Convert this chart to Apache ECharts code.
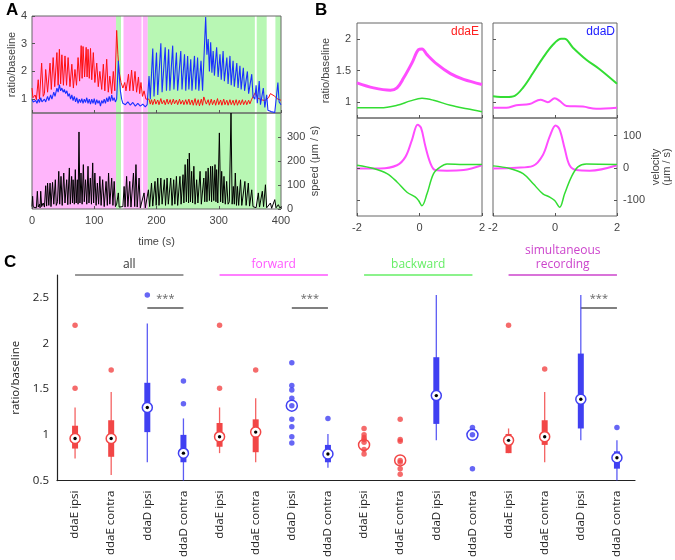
<!DOCTYPE html>
<html><head><meta charset="utf-8">
<script src="https://cdn.jsdelivr.net/npm/echarts@6/dist/echarts.min.js"></script>
<style>html,body{margin:0;padding:0;background:#fff}#c{width:675px;height:560px}</style>
</head><body><div id="c"></div><script>
// ---------- Panel A data ----------
const aRatioE = [[0,1.40],[1.5,1.05],[3,1.0],[5,1.15],[7,0.98],[10,1.7],[12,1.0],[15.5,2.3],[18,1.1],[20,1.2],[22,2.07],[25,1.25],[29,2.3],[31,1.35],[34,2.5],[36.5,1.45],[40,2.68],[42,1.5],[44,2.8],[46,1.55],[48,2.6],[50.5,1.5],[53,2.56],[55.5,1.5],[58,2.5],[61,1.45],[64,2.26],[66.5,1.4],[69,2.07],[71.5,1.5],[74,2.5],[76.5,1.65],[79,2.93],[80.5,1.75],[82,2.9],[84.5,1.8],[87,2.87],[88.5,1.8],[90,2.8],[92,1.75],[94,2.83],[96,1.7],[98.5,2.68],[101,1.6],[104,2.3],[106.5,1.45],[109,2.0],[112,1.35],[114.6,2.26],[117,1.3],[120,2.44],[122.5,1.25],[125,1.83],[128,1.2],[130.6,2.0],[133,1.3],[136,3.48],[138,2.6],[140,2.0],[143,1.6],[146,1.4],[149,1.6],[151,1.3],[155,1.9],[157,1.3],[160,2.05],[162.5,1.3],[165.5,2.0],[168,1.25],[171,1.8],[173,1.2],[175,1.6],[177.5,1.1],[180,1.3],[183,1.0],[186,0.95],[188,1.0],[190,0.82],[192,0.98],[194,0.8],[197,1.0],[199,0.82],[202,0.97],[204,0.8],[207,1.02],[209,0.83],[212,0.96],[214,0.8],[217,1.0],[219,0.82],[222,0.98],[224,0.8],[227,1.0],[229,0.83],[232,0.97],[234,0.8],[237,1.0],[239,0.82],[242,0.96],[244,0.8],[247,0.98],[249,0.81],[252,1.0],[254,0.8],[257,0.97],[259,0.78],[262,1.02],[264,0.78],[267,0.98],[269,0.76],[272,1.0],[274,0.78],[276,1.08],[278,1.13],[280,0.82],[283,0.98],[285,0.78],[288,1.0],[290,0.8],[293,0.97],[295,0.78],[298,1.02],[300,0.8],[303,0.97],[305,0.78],[308,1.0],[310,0.8],[313,0.96],[315,0.78],[318,0.98],[320,0.8],[323,0.96],[325,0.78],[328,0.98],[330,0.78],[333,0.96],[335,0.8],[338,0.98],[340,0.8],[343,0.95],[345,0.8],[348,0.96],[350,0.83],[353,1.0],[356,0.95],[359,1.25],[362,1.05],[365,1.1],[368,0.98],[371,1.05],[374,0.95],[377,0.98],[380,1.05],[383,1.2],[386,1.25],[389,1.12],[392,1.05],[395,1.0],[398,0.93],[400,0.96]];
const aRatioD = [[0,1.0],[2,0.9],[4,0.85],[6,0.95],[8,0.85],[10,1.0],[12,0.88],[14,1.05],[16,0.9],[18,0.95],[20,1.0],[22,0.9],[25,1.1],[27,0.95],[30,1.15],[32,1.0],[35,1.25],[37,1.1],[40,1.4],[42,1.25],[44,1.52],[46,1.3],[48,1.4],[50,1.25],[52,1.35],[54,1.2],[56,1.3],[58,1.1],[60,1.2],[62,1.0],[64,1.15],[66,0.95],[68,1.1],[70,0.9],[72,1.05],[74,0.85],[76,1.0],[78,0.88],[80,1.02],[82,0.85],[84,1.0],[86,0.88],[88,1.05],[90,0.85],[92,1.0],[94,0.82],[96,1.0],[98,0.85],[100,1.02],[102,0.8],[104,0.98],[106,0.85],[108,0.95],[110,0.75],[112,0.95],[114,0.85],[116,1.0],[118,0.85],[120,1.05],[122,0.9],[124,1.1],[126,0.92],[128,1.15],[130,0.95],[132,1.05],[134,0.9],[136,1.0],[138.7,2.38],[140,1.9],[142,1.3],[144,1.0],[146,0.85],[150,0.8],[154,0.9],[158,0.78],[162,0.88],[166,0.75],[170,0.85],[174,0.75],[178,0.82],[182,0.72],[185,0.8],[188,1.83],[190,1.0],[194,2.83],[196,1.1],[200,2.68],[202,1.15],[207,3.02],[209,1.25],[214,2.87],[216,1.3],[219.5,2.8],[221.5,1.3],[226,2.93],[228,1.35],[232,2.68],[234,1.3],[239,2.74],[241,1.35],[245,2.62],[247,1.3],[250,2.56],[252,1.35],[255,2.44],[257,1.3],[261,2.56],[263,1.35],[266,2.5],[268,1.3],[271.5,2.38],[274,1.3],[277,1.35],[279,3.96],[281,2.6],[283,3.17],[285,2.0],[287,3.05],[289,1.95],[291,2.74],[293,1.85],[296.6,2.87],[299,1.8],[302,2.62],[304,1.7],[307,2.74],[309,1.65],[313,2.5],[315,1.55],[318,2.56],[320,1.5],[323,2.38],[325,1.45],[329,2.3],[331,1.4],[334,2.2],[336,1.35],[339.5,2.13],[341.5,1.3],[346,2.0],[348,1.2],[353,1.9],[355,1.1],[358,1.0],[360,1.5],[362,0.85],[365,1.65],[367,0.8],[371.6,1.4],[374,0.7],[377,1.16],[379,0.6],[384,0.55],[390,0.52],[393,0.55],[395,1.6],[397,0.9],[400,0.8]];
const aSpeed = [[0,10],[1,53],[2,8],[5,15],[7,5],[8.6,74],[10,8],[12,20],[13,5],[14,74],[15.5,10],[18,25],[20,8],[22,97],[23.5,12],[25,108],[27,15],[29,108],[30.5,10],[33,111],[35,20],[37.5,122],[39,15],[41,30],[43,157],[44.5,20],[46.6,136],[48.5,15],[51,150],[53,25],[55.7,122],[57.5,18],[60,171],[61.5,20],[63.7,136],[65,25],[66,122],[68,20],[69.6,164],[71,25],[72.8,122],[74,20],[75.5,321],[77,25],[78.7,150],[80.5,20],[82.5,185],[84,30],[86,122],[88,20],[90,178],[91.5,25],[93.7,129],[95.5,20],[97.5,192],[99,25],[101,150],[103,15],[105,108],[107,20],[109,136],[111,15],[113.5,122],[116,10],[119,115],[121,15],[123,150],[125,20],[128,129],[130,15],[132,115],[134,10],[136,20],[138.7,67],[140,8],[143,5],[146,10],[148,94],[149.5,8],[152,136],[154,10],[157,115],[159,8],[163,150],[165,10],[167,185],[169,8],[172,129],[174,5],[177,8],[180,67],[182,5],[185,10],[187,80],[189,10],[192,108],[194,12],[197.6,115],[199.5,15],[202,129],[204,15],[207,129],[209,20],[212.6,122],[214.5,15],[217,129],[219,20],[222.8,129],[225,15],[227.6,122],[229.5,20],[232,136],[234,15],[237.7,136],[239.5,20],[242.6,143],[244,25],[246,185],[248,30],[250,208],[251.5,25],[252.7,233],[254.5,30],[256.5,157],[258,25],[260,178],[262,20],[264.5,122],[266.5,25],[270,157],[272,20],[276,129],[277.5,30],[279.5,157],[281,30],[283,171],[285,35],[287,178],[288.5,30],[290,178],[292,35],[294,185],[295.5,30],[296.6,164],[298.5,25],[301,317],[303,30],[304.7,157],[306.5,25],[308.4,136],[310.5,20],[312.7,115],[315,20],[317,30],[319.7,400],[321.5,20],[323.4,94],[325,20],[326.6,150],[328.5,15],[330,94],[332,15],[335,122],[337,15],[342,115],[344,15],[347.5,108],[349.5,12],[353,80],[355,10],[358,15],[360,5],[363.6,67],[365.5,8],[370,74],[372,10],[375,101],[377,5],[380,8],[383,25],[385,3],[390,39],[392,5],[395.7,18],[398,5],[400,8]];
const aBandStart = [0, 135, 147, 178, 186, 361, 391];
const aBandEnd   = [135, 143, 176, 186, 358, 377, 400];
const aBandDir   = ['forward', 'backward', 'forward', 'forward', 'backward', 'backward', 'backward'];
const aTimeTicks = [0, 100, 200, 300, 400];

// ---------- Panel B data ----------
const bRatioEFwd = [[-2,1.305],[-1.47,1.226],[-0.93,1.19],[-0.72,1.226],[-0.51,1.38],[-0.24,1.62],[-0.03,1.83],[0.08,1.84],[0.24,1.75],[0.56,1.6],[0.99,1.45],[1.41,1.36],[2,1.28]];
const bRatioEBwd = [[-2,0.91],[-1.25,0.91],[-0.72,0.95],[-0.29,1.02],[0.08,1.06],[0.45,1.03],[0.99,0.95],[1.52,0.895],[2,0.85]];
const bRatioDBwd = [[-2,1.095],[-1.57,1.08],[-1.3,1.1],[-1.03,1.23],[-0.71,1.46],[-0.39,1.7],[-0.06,1.91],[0.2,2.0],[0.31,2.0],[0.58,1.86],[1.01,1.67],[1.44,1.52],[2,1.29]];
const bRatioDFwd = [[-2,0.91],[-1.57,0.91],[-1.25,0.95],[-0.82,0.97],[-0.47,1.04],[-0.23,1.0],[-0.01,1.06],[0.15,1.02],[0.37,0.94],[0.9,0.93],[1.33,0.895],[2,0.91]];
const bVelEFwd = [[-2,-2],[-1.25,-2],[-0.72,8],[-0.45,34],[-0.24,87],[-0.06,134],[0.05,124],[0.19,66],[0.35,14],[0.5,-7],[0.88,-9],[1.41,-7],[2,8]];
const bVelEBwd = [[-2,8],[-1.47,-2],[-1.04,-18],[-0.72,-44],[-0.4,-76],[-0.13,-91],[-0.03,-102],[0.08,-118],[0.24,-81],[0.45,-18],[0.67,3],[0.88,12],[1.41,10],[2,10]];
const bVelDFwd = [[-2,-2],[-1.25,0],[-0.71,6],[-0.39,40],[-0.17,98],[0.02,132],[0.15,119],[0.31,61],[0.47,8],[0.69,-7],[1.12,-9],[2,8]];
const bVelDBwd = [[-2,6],[-1.46,-2],[-1.03,-18],[-0.71,-49],[-0.39,-81],[-0.17,-91],[-0.01,-102],[0.15,-123],[0.31,-81],[0.53,-28],[0.74,3],[1.01,12],[2,10]];
const bRatioTicks = [1, 1.5, 2];
const bVelTicks = [-100, 0, 100];

// ---------- Panel C data ----------
const cCategories = ['ddaE ipsi','ddaE contra','ddaD ipsi','ddaD contra','ddaE ipsi','ddaE contra','ddaD ipsi','ddaD contra','ddaE ipsi','ddaE contra','ddaD ipsi','ddaD contra','ddaE ipsi','ddaE contra','ddaD ipsi','ddaD contra'];
const cWhiskerLow  = [0.74, 0.56, 0.70, 0.50, 0.80, 0.70, null, 0.64, null, null, 0.94, null, 0.80, 0.70, 0.94, 0.50];
const cQ1          = [0.85, 0.76, 1.03, 0.70, 0.87, 0.81, null, 0.70, null, null, 1.12, null, 0.80, 0.89, 1.07, 0.63];
const cMedian      = [0.96, 0.96, 1.30, 0.80, 0.98, 1.03, 1.32, 0.79, 0.89, 0.72, 1.43, 1.00, 0.94, 0.98, 1.39, 0.75];
const cQ3          = [1.10, 1.16, 1.57, 1.00, 1.13, 1.17, null, 0.89, null, null, 1.85, null, 1.01, 1.16, 1.89, 0.82];
const cWhiskerHigh = [1.30, 1.47, 2.22, 1.18, 1.30, 1.40, null, 1.01, null, null, 2.53, null, 1.07, 1.47, 2.53, 0.94];
const cPoints = [[0,2.20],[0,1.51],[1,1.71],[2,2.53],[3,1.59],[3,1.34],[4,2.20],[4,1.51],[5,1.71],
  [6,1.79],[6,1.54],[6,1.49],[6,1.40],[6,1.32],[6,1.17],[6,1.09],[6,0.98],[6,0.91],[7,1.18],
  [8,1.07],[8,1.0],[8,0.97],[8,0.95],[8,0.92],[8,0.84],[8,0.79],
  [9,1.17],[9,0.95],[9,0.93],[9,0.72],[9,0.70],[9,0.63],[9,0.57],
  [11,1.08],[11,1.00],[11,0.63],[12,2.20],[13,1.72],[15,1.08]];
const cPointAtMedian = [0,0,0,0,0,0,1,0,0,1,0,1,0,0,0,0];
const cGroupNames = ['all', 'forward', 'backward', 'simultaneous\nrecording'];
const cGroupFirst = [0, 4, 8, 12];
const cGroupLast  = [3, 7, 11, 15];
const cGroupLevel = 2.75;
const cSigFirst = [2, 6, 14];
const cSigLast  = [3, 7, 15];
const cSigLevel = 2.39;
const cSigText = '***';
const cTicks = [0.5, 1, 1.5, 2, 2.5];

// ---------- styles ----------
const RED = '#f24646', BLUE = '#4040f2';
const MAG = '#ff4dff', GRN = '#33dd33';
const bandColor = {forward: '#ffb5fb', backward: '#b8f7b4'};
const groupColor = ['#333333', '#ff55ff', '#66ee66', '#cc44cc'];
const FA = 'Liberation Sans, Arial, sans-serif';
const FC = 'Open Sans, Noto Sans, sans-serif';

const chart = echarts.init(document.getElementById('c'), null, {renderer: 'canvas'});

function valAxis(gi, o) {
  return Object.assign({
    type: 'value', gridIndex: gi, z: 5,
    axisLine: {show: false, onZero: false},
    axisTick: {show: true, inside: true, length: 3, lineStyle: {color: '#555'}},
    splitLine: {show: false},
    axisLabel: {show: false, fontFamily: FA, fontSize: 11, color: '#444'},
    nameTextStyle: {fontFamily: FA, fontSize: 11, color: '#444'}
  }, o);
}
const gridStyle = {show: true, borderColor: '#666', borderWidth: 1, backgroundColor: 'transparent', z: 3};

const bandData = aBandStart.map((s, i) => [s, aBandEnd[i], aBandDir[i] === 'forward' ? 0 : 1]);
function bandSeries(xi, yi) {
  return {
    type: 'custom', xAxisIndex: xi, yAxisIndex: yi, z: 1, silent: true,
    encode: {x: [0, 1]},
    data: bandData,
    renderItem: (params, api) => {
      const cs = params.coordSys;
      const x0 = api.coord([api.value(0), 0])[0];
      const x1 = api.coord([api.value(1), 0])[0];
      return {type: 'rect', shape: {x: x0, y: cs.y, width: x1 - x0, height: cs.height},
        style: {fill: api.value(2) === 0 ? bandColor.forward : bandColor.backward}};
    }
  };
}
function lineS(xi, yi, data, color, w, smooth) {
  return {type: 'line', xAxisIndex: xi, yAxisIndex: yi, data: data, showSymbol: false, symbol: 'none',
    smooth: smooth || false, z: 4, clip: true, lineStyle: {color: color, width: w}, silent: true};
}

// panel C helpers
const boxRows = [];
cCategories.forEach((c, i) => {
  if (cQ1[i] !== null) boxRows.push([i, cWhiskerLow[i], cQ1[i], cMedian[i], cQ3[i], cWhiskerHigh[i]]);
});
const ringRows = [];
cCategories.forEach((c, i) => { if (cQ1[i] === null) ringRows.push([i, cMedian[i], cPointAtMedian[i]]); });
const colOf = i => cCategories[i].indexOf('ddaD') === 0 ? BLUE : RED;
const redPts = cPoints.filter(p => colOf(p[0]) === RED);
const bluePts = cPoints.filter(p => colOf(p[0]) === BLUE);

const option = {
  animation: false,
  grid: [
    Object.assign({left: 32, top: 16, width: 249, height: 97}, gridStyle),
    Object.assign({left: 32, top: 113, width: 249, height: 96}, gridStyle),
    Object.assign({left: 357, top: 23, width: 125, height: 95}, gridStyle),
    Object.assign({left: 493, top: 23, width: 124, height: 95}, gridStyle),
    Object.assign({left: 357, top: 118, width: 125, height: 98}, gridStyle),
    Object.assign({left: 493, top: 118, width: 124, height: 98}, gridStyle),
    {left: 57, top: 275, width: 578, height: 211, show: false}
  ],
  xAxis: [
    valAxis(0, {min: 0, max: 400, interval: 100}),
    valAxis(1, {min: 0, max: 400, interval: 100, axisLabel: {show: true, fontFamily: FA, fontSize: 11, color: '#444', margin: 6, customValues: aTimeTicks},
      name: 'time (s)', nameLocation: 'middle', nameGap: 27}),
    valAxis(2, {min: -2, max: 2, interval: 2}),
    valAxis(3, {min: -2, max: 2, interval: 2}),
    valAxis(4, {min: -2, max: 2, interval: 2, axisLabel: {show: true, fontFamily: FA, fontSize: 11, color: '#444', margin: 6}}),
    valAxis(5, {min: -2, max: 2, interval: 2, axisLabel: {show: true, fontFamily: FA, fontSize: 11, color: '#444', margin: 6}}),
    {type: 'category', gridIndex: 6, data: cCategories, boundaryGap: true,
      axisLine: {show: true, onZero: false, lineStyle: {color: '#222', width: 1.2}}, axisTick: {show: false},
      axisLabel: {rotate: 90, interval: 0, margin: 10, fontFamily: FC, fontSize: 11.5, color: '#222'}}
  ],
  yAxis: [
    valAxis(0, {min: 0.5, max: 4, axisLabel: {show: true, fontFamily: FA, fontSize: 11, color: '#444', margin: 5, customValues: [1, 2, 3, 4]},
      axisTick: {show: true, inside: true, length: 3, lineStyle: {color: '#555'}, customValues: [1, 2, 3, 4]},
      name: 'ratio/baseline', nameLocation: 'middle', nameGap: 15}),
    valAxis(1, {min: 0, max: 400, position: 'right', axisLabel: {show: true, fontFamily: FA, fontSize: 11, color: '#444', margin: 6, customValues: [0, 100, 200, 300]},
      axisTick: {show: true, inside: true, length: 3, lineStyle: {color: '#555'}, customValues: [0, 100, 200, 300]},
      name: 'speed (\u03bcm / s)', nameLocation: 'middle', nameRotate: 90, nameGap: 27}),
    valAxis(2, {min: 0.75, max: 2.25, axisLabel: {show: true, fontFamily: FA, fontSize: 11, color: '#444', margin: 6, customValues: bRatioTicks},
      axisTick: {show: true, inside: true, length: 3, lineStyle: {color: '#555'}, customValues: bRatioTicks},
      name: 'ratio/baseline', nameLocation: 'middle', nameGap: 19}),
    valAxis(3, {min: 0.75, max: 2.25, axisTick: {show: true, inside: true, length: 3, lineStyle: {color: '#555'}, customValues: bRatioTicks}}),
    valAxis(4, {min: -150, max: 155, axisTick: {show: true, inside: true, length: 3, lineStyle: {color: '#555'}, customValues: bVelTicks}}),
    valAxis(5, {min: -150, max: 155, position: 'right', axisLabel: {show: true, fontFamily: FA, fontSize: 11, color: '#444', margin: 6, customValues: bVelTicks},
      axisTick: {show: true, inside: true, length: 3, lineStyle: {color: '#555'}, customValues: bVelTicks},
      name: 'velocity\n(\u03bcm / s)', nameLocation: 'middle', nameRotate: 90, nameGap: 33}),
    {type: 'value', gridIndex: 6, min: 0.5, max: 2.75,
      axisLine: {show: true, onZero: false, lineStyle: {color: '#222', width: 1.2}}, axisTick: {show: false}, splitLine: {show: false},
      axisLabel: {fontFamily: FC, fontSize: 11.5, color: '#222', margin: 8, customValues: cTicks},
      name: 'ratio/baseline', nameLocation: 'middle', nameGap: 34, nameTextStyle: {fontFamily: FC, fontSize: 11.5, color: '#222'}}
  ],
  graphic: [
    {type: 'text', left: 6, top: 2, style: {text: 'A', font: 'bold 17px ' + FA, fill: '#000'}},
    {type: 'text', left: 315, top: 2, style: {text: 'B', font: 'bold 17px ' + FA, fill: '#000'}},
    {type: 'text', left: 4, top: 254, style: {text: 'C', font: 'bold 17px ' + FA, fill: '#000'}},
    {type: 'text', right: 675 - 479, top: 26, style: {text: 'ddaE', font: '12px ' + FA, fill: '#ff2020', align: 'right'}},
    {type: 'text', right: 675 - 615, top: 26, style: {text: 'ddaD', font: '12px ' + FA, fill: '#2020ff', align: 'right'}}
  ],
  series: [
    bandSeries(0, 0),
    bandSeries(1, 1),
    lineS(0, 0, aRatioE, '#ff1010', 1),
    lineS(0, 0, aRatioD, '#1a30ff', 1.1),
    lineS(1, 1, aSpeed, '#000', 1),
    lineS(2, 2, bRatioEFwd, MAG, 3, 0.35),
    lineS(2, 2, bRatioEBwd, GRN, 1.5, 0.35),
    lineS(3, 3, bRatioDBwd, GRN, 2, 0.35),
    lineS(3, 3, bRatioDFwd, MAG, 2, 0.35),
    lineS(4, 4, bVelEFwd, MAG, 2, 0.35),
    lineS(4, 4, bVelEBwd, GRN, 1.5, 0.35),
    lineS(5, 5, bVelDFwd, MAG, 2, 0.35),
    lineS(5, 5, bVelDBwd, GRN, 1.5, 0.35),
    // panel C: group headers
    {type: 'custom', xAxisIndex: 6, yAxisIndex: 6, silent: true, z: 3,
      data: cGroupNames.map((n, i) => [cGroupFirst[i], cGroupLast[i], cGroupLevel, i]),
      encode: {x: [0, 1], y: 2},
      renderItem: (params, api) => {
        const a = api.coord([api.value(0), api.value(2)]);
        const b = api.coord([api.value(1), api.value(2)]);
        const gi = api.value(3);
        const col = groupColor[gi];
        return {type: 'group', children: [
          {type: 'line', shape: {x1: a[0], y1: a[1], x2: b[0], y2: b[1]}, style: {stroke: col, lineWidth: gi === 0 ? 1 : 1.3}},
          {type: 'text', x: (a[0] + b[0]) / 2, y: a[1] - 3, style: {text: cGroupNames[gi], fill: col, font: '12px ' + FC, align: 'center', verticalAlign: 'bottom', lineHeight: 14}}
        ]};
      }},
    // significance bars
    {type: 'custom', xAxisIndex: 6, yAxisIndex: 6, silent: true, z: 3,
      data: cSigFirst.map((s, i) => [s, cSigLast[i], cSigLevel]),
      encode: {x: [0, 1], y: 2},
      renderItem: (params, api) => {
        const a = api.coord([api.value(0), api.value(2)]);
        const b = api.coord([api.value(1), api.value(2)]);
        return {type: 'group', children: [
          {type: 'line', shape: {x1: a[0], y1: a[1], x2: b[0], y2: b[1]}, style: {stroke: '#808080', lineWidth: 2}},
          {type: 'text', x: (a[0] + b[0]) / 2, y: a[1] - 4, style: {text: cSigText, fill: '#666', font: '11px ' + FC, align: 'center', verticalAlign: 'bottom'}}
        ]};
      }},
    // box plots
    {type: 'custom', xAxisIndex: 6, yAxisIndex: 6, silent: true, z: 4,
      data: boxRows, encode: {x: 0, y: [1, 2, 3, 4, 5]},
      renderItem: (params, api) => {
        const i = api.value(0);
        const col = colOf(i);
        const pl = api.coord([i, api.value(1)]), p1 = api.coord([i, api.value(2)]),
              pm = api.coord([i, api.value(3)]), p3 = api.coord([i, api.value(4)]), ph = api.coord([i, api.value(5)]);
        return {type: 'group', children: [
          {type: 'line', shape: {x1: pl[0], y1: pl[1], x2: ph[0], y2: ph[1]}, style: {stroke: col, lineWidth: 1.3, opacity: 0.85}},
          {type: 'rect', shape: {x: p1[0] - 3, y: p3[1], width: 6, height: p1[1] - p3[1]}, style: {fill: col}},
          {type: 'circle', shape: {cx: pm[0], cy: pm[1], r: 5}, style: {fill: '#fff', stroke: col, lineWidth: 1.5}},
          {type: 'circle', shape: {cx: pm[0], cy: pm[1], r: 1.7}, style: {fill: '#000'}}
        ]};
      }},
    // medians for point-only groups
    {type: 'custom', xAxisIndex: 6, yAxisIndex: 6, silent: true, z: 4,
      data: ringRows, encode: {x: 0, y: 1},
      renderItem: (params, api) => {
        const i = api.value(0);
        const col = colOf(i);
        const pm = api.coord([i, api.value(1)]);
        return {type: 'circle', shape: {cx: pm[0], cy: pm[1], r: 5.5}, style: {fill: '#fff', stroke: col, lineWidth: 1.5}};
      }},
    {type: 'scatter', xAxisIndex: 6, yAxisIndex: 6, data: redPts, symbolSize: 5.5, z: 5, silent: true,
      itemStyle: {color: RED}},
    {type: 'scatter', xAxisIndex: 6, yAxisIndex: 6, data: bluePts, symbolSize: 5.5, z: 5, silent: true,
      itemStyle: {color: BLUE}}
  ]
};
chart.setOption(option);
</script></body></html>
